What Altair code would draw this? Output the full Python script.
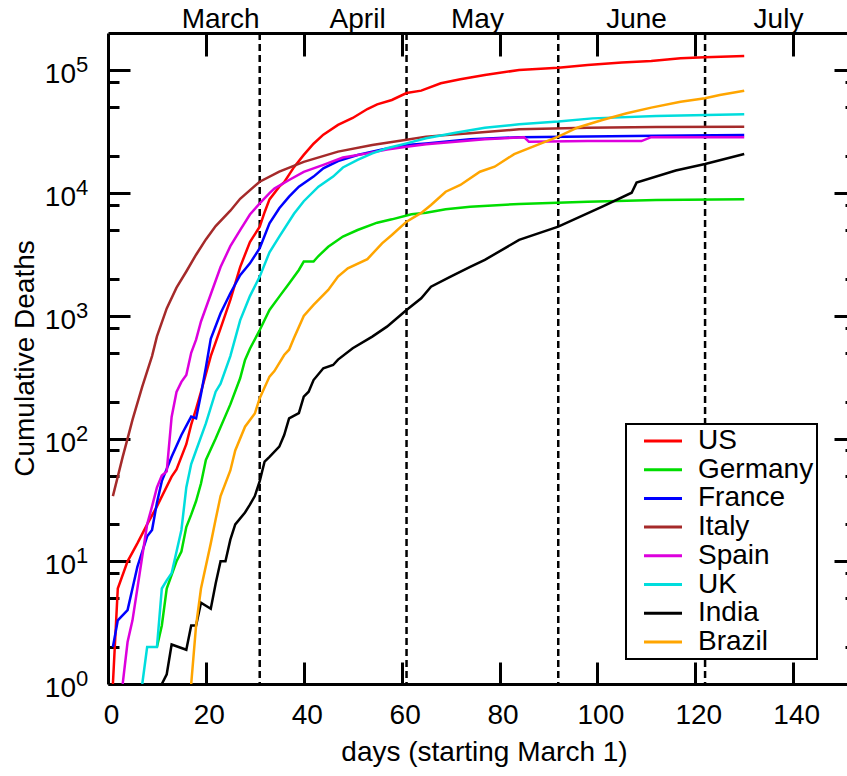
import altair as alt
import pandas as pd

FONT = "Liberation Sans"

countries = ["US", "Germany", "France", "Italy", "Spain", "UK", "India", "Brazil"]
colors = ["#ff0000", "#00dd00", "#0000ff", "#a52a2a", "#dd00dd", "#00dddd", "#000000", "#ffa500"]

us_days = [1, 2, 4, 6, 8, 10, 13, 14, 16, 17, 18, 19, 21, 23, 25, 27, 29, 31, 32, 33, 35, 36, 38, 40, 42, 44, 47, 50, 53, 55, 58, 61, 64, 68, 72, 77, 84, 92, 98, 105, 111, 117, 122, 130]
us_vals = [1, 6, 10, 14, 20, 28, 49, 56, 90, 130, 175, 240, 470, 790, 1350, 2500, 4000, 5330, 7000, 8900, 11300, 12300, 16300, 20500, 25300, 30000, 36000, 41000, 48500, 53000, 57500, 65500, 68500, 78700, 84700, 91800, 100900, 105400, 110900, 115900, 119400, 125600, 127900, 131200]

de_days = [10, 11, 12, 14, 15, 16, 17, 18, 19, 20, 22, 25, 27, 28, 29, 31, 33, 35, 37, 39, 40, 42, 43, 45, 48, 51, 55, 58, 62, 65, 69, 74, 84, 98, 112, 130]
de_vals = [2, 3, 6, 10, 12, 19, 24, 31, 43, 67, 100, 190, 310, 437, 540, 767, 1117, 1435, 1840, 2366, 2770, 2770, 3076, 3660, 4430, 5010, 5750, 6120, 6730, 6930, 7400, 7760, 8170, 8530, 8810, 8910]

fr_days = [1, 2, 4, 5, 6, 8, 9, 10, 11, 13, 15, 17, 18, 19, 20, 21, 23, 25, 27, 29, 31, 33, 35, 37, 39, 42, 44, 47, 51, 56, 61, 65, 74, 84, 98, 112, 130]
fr_vals = [2, 3.3, 4, 6, 9, 16, 18, 30, 45, 71, 107, 151, 146, 230, 380, 650, 1050, 1530, 2150, 2680, 3560, 5680, 7530, 9380, 11300, 13650, 15960, 18280, 20460, 22750, 24720, 25400, 27500, 28600, 28900, 29400, 29800]

it_days = [1, 2, 3, 4, 5, 7, 9, 10, 12, 14, 16, 18, 20, 22, 25, 27, 31, 35, 40, 47, 54, 61, 65, 74, 84, 98, 112, 130]
it_vals = [34, 49, 71, 100, 142, 265, 470, 680, 1150, 1700, 2300, 3150, 4200, 5400, 7200, 9000, 12400, 15000, 18000, 21800, 24700, 27200, 28900, 30800, 33200, 34200, 34600, 34800]

es_days = [3, 4, 5, 6, 7, 8, 9, 10, 11, 12, 13, 14, 15, 16, 17, 18, 19, 21, 23, 25, 27, 29, 31, 33, 34, 37, 40, 44, 48, 53, 57, 61, 65, 71, 77, 85, 86, 98, 109, 111, 130]
es_vals = [1, 2.2, 3.3, 6, 11, 20, 28, 40, 50, 54, 150, 240, 290, 330, 500, 640, 900, 1500, 2500, 3700, 5000, 6700, 8260, 10000, 10900, 12800, 14900, 17000, 19500, 21100, 22700, 23900, 25000, 26300, 27500, 28600, 26300, 26600, 26600, 28600, 28600]

uk_days = [7, 8, 10, 11, 12, 13, 15, 16, 17, 18, 20, 22, 23, 25, 27, 29, 31, 33, 35, 38, 40, 43, 46, 48, 51, 54, 57, 61, 65, 71, 77, 84, 92, 99, 112, 130]
uk_vals = [1, 2, 2, 6, 7, 8, 18, 40, 62, 80, 133, 241, 280, 470, 920, 1450, 2090, 3300, 4430, 6800, 8600, 11300, 13650, 16200, 18660, 21130, 23230, 25470, 28000, 31100, 34200, 36400, 38300, 40700, 42600, 44000]

in_days = [11, 12, 13, 16, 17, 18, 19, 21, 22, 23, 24, 25, 26, 28, 29, 30, 31, 32, 33, 35, 36, 37, 39, 40, 41, 42, 44, 46, 47, 50, 54, 57, 61, 64, 66, 70, 74, 77, 84, 92, 101, 107, 108, 116, 122, 130]
in_vals = [1, 1.2, 2.1, 1.9, 3, 3, 4.6, 4.1, 6.6, 10, 10, 15, 20, 25, 29, 34, 45, 65, 71, 86, 107, 146, 161, 220, 241, 300, 374, 398, 440, 545, 678, 817, 1117, 1390, 1730, 2090, 2510, 2860, 4160, 5330, 7760, 10090, 12190, 15280, 17300, 20840]

br_days = [17, 18, 19, 21, 22, 23, 25, 26, 28, 30, 31, 33, 34, 36, 37, 38, 40, 42, 45, 47, 49, 53, 56, 58, 61, 64, 66, 69, 72, 76, 79, 83, 88, 92, 96, 101, 106, 111, 117, 122, 125, 130]
br_vals = [1, 3, 6, 14, 22, 34, 55, 80, 125, 160, 213, 320, 355, 480, 530, 660, 1000, 1230, 1626, 2090, 2443, 2900, 3900, 4560, 5860, 6900, 8020, 10280, 11670, 14960, 16440, 20800, 25000, 28900, 34300, 39500, 44800, 49800, 55700, 59300, 63100, 68400]

series = {
    "US": (us_days, us_vals),
    "Germany": (de_days, de_vals),
    "France": (fr_days, fr_vals),
    "Italy": (it_days, it_vals),
    "Spain": (es_days, es_vals),
    "UK": (uk_days, uk_vals),
    "India": (in_days, in_vals),
    "Brazil": (br_days, br_vals),
}

x_label_ticks = [0, 20, 40, 60, 80, 100, 120, 140]
x_inner_ticks = [20, 40, 60, 80, 100, 120, 140]
y_major = [1, 10, 100, 1000, 10000, 100000]
y_minor = [m * 10 ** k for k in range(5) for m in (2, 5, 8)]
y_exponents = ["0", "1", "2", "3", "4", "5"]
y_base = ["10"] * 6
month_names = ["March", "April", "May", "June", "July"]
month_label_days = [23, 51, 75.5, 108, 137]
month_end_days = [31, 61, 92, 122]

rows = []
for c in countries:
    d, v = series[c]
    for dd, vv in zip(d, v):
        rows.append({"country": c, "day": dd, "deaths": vv})
df = pd.DataFrame(rows)

rule_df = pd.DataFrame({"day": month_end_days})
month_df = pd.DataFrame({"day": month_label_days, "month": month_names})
ylab_df = pd.DataFrame({"val": y_major, "exp": y_exponents, "base": y_base})

xs = alt.Scale(domain=[0, 151], nice=False, zero=False)
ys = alt.Scale(type="log", domain=[1, 202000], nice=False)


def ax(**kw):
    base = dict(grid=False, title=None, labels=False, ticks=False, domain=False)
    base.update(kw)
    return alt.Axis(**base)


def tick_axis(orient, values, offset, size):
    return ax(orient=orient, ticks=True, values=values, offset=offset,
              tickSize=size, tickWidth=3, tickColor="black")


legend = alt.Legend(
    orient="none", legendX=518, legendY=391, title=None,
    symbolType="M-2,0H2", symbolSize=361, symbolStrokeWidth=3,
    labelFontSize=28, labelFont=FONT, labelColor="black", labelLimit=400,
    strokeColor="black", fillColor="white", padding=3, rowPadding=0.7,
    symbolOffset=20, labelOffset=21, direction="vertical",
)

lines = alt.Chart(df).mark_line(strokeWidth=2.5, clip=True).encode(
    x=alt.X("day:Q", scale=xs, axis=ax(
        orient="bottom", domain=True, domainWidth=3, domainColor="black",
        labels=True, values=x_label_ticks, labelFontSize=28, labelFont=FONT,
        labelColor="black", labelPadding=17, labelFlush=False, labelOffset=3,
        labelBaseline="top", tickSize=0,
        title="days (starting March 1)", titleFontSize=28, titleFont=FONT,
        titleFontWeight="normal", titleColor="black", titleX=376, titleY=76,
        titleAlign="center", titleBaseline="alphabetic", titleAngle=0)),
    y=alt.Y("deaths:Q", scale=ys, axis=ax(
        orient="left", domain=True, domainWidth=3, domainColor="black", tickSize=0,
        title="Cumulative Deaths", titleFontSize=28, titleFont=FONT,
        titleFontWeight="normal", titleColor="black", titleX=-75, titleY=325,
        titleAngle=270, titleAlign="center", titleBaseline="alphabetic")),
    color=alt.Color("country:N", scale=alt.Scale(domain=countries, range=colors), legend=legend),
)

invis = alt.Chart(df).mark_point(opacity=0, size=1)

axes_a = invis.encode(
    x=alt.X("day:Q", scale=xs, axis=tick_axis("bottom", x_inner_ticks, -22, 22)),
    y=alt.Y("deaths:Q", scale=ys, axis=tick_axis("left", y_major, -22, 22)),
)
axes_b = invis.encode(
    x=alt.X("day:Q", scale=xs, axis=ax(orient="top", domain=True, domainWidth=3, domainColor="black")),
    y=alt.Y("deaths:Q", scale=ys, axis=tick_axis("left", y_minor, -11, 11)),
)
axes_c = invis.encode(
    x=alt.X("day:Q", scale=xs, axis=tick_axis("top", x_inner_ticks, -23, 23)),
    y=alt.Y("deaths:Q", scale=ys, axis=tick_axis("right", y_major, -13, 13)),
)
axes_d = invis.encode(
    x=alt.X("day:Q", scale=xs, axis=None),
    y=alt.Y("deaths:Q", scale=ys, axis=tick_axis("right", y_minor, -2, 2)),
)

rules = alt.Chart(rule_df).mark_rule(strokeDash=[7, 4], strokeWidth=2.5, color="black").encode(
    x=alt.X("day:Q", scale=xs, axis=None)
)

months = alt.Chart(month_df).mark_text(
    fontSize=28, font=FONT, baseline="alphabetic", align="center", color="black"
).encode(
    x=alt.X("day:Q", scale=xs, axis=None), y=alt.value(-5), text="month:N"
)

ybase = alt.Chart(ylab_df).mark_text(
    fontSize=28, font=FONT, align="right", baseline="alphabetic", dy=13, color="black"
).encode(
    x=alt.value(-32), y=alt.Y("val:Q", scale=ys, axis=None), text="base:N"
)
yexp = alt.Chart(ylab_df).mark_text(
    fontSize=22, font=FONT, align="left", baseline="alphabetic", dy=2, color="black"
).encode(
    x=alt.value(-32), y=alt.Y("val:Q", scale=ys, axis=None), text="exp:N"
)

chart = alt.layer(
    rules, lines, axes_a, axes_b, axes_c, axes_d, months, ybase, yexp
).resolve_axis(
    x="independent", y="independent"
).properties(
    width=739, height=651,
    padding={"left": 108, "top": 33, "right": 0, "bottom": 92},
    autosize=alt.AutoSizeParams(type="none"),
).configure(
    font=FONT
).configure_view(
    stroke="transparent"
).configure_legend(
    strokeWidth=2
)

chart.save("out.html", embed_options={"renderer": "svg", "actions": False})
